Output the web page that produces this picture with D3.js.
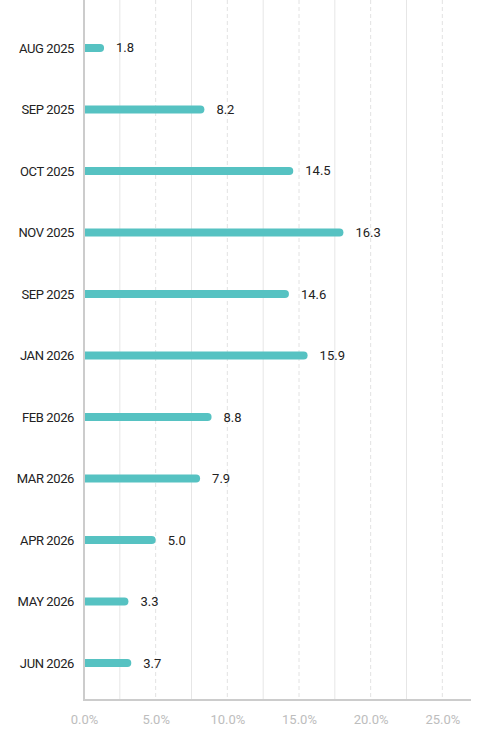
<!DOCTYPE html>
<html>
<head>
<meta charset="utf-8">
<script src="https://cdn.jsdelivr.net/npm/d3@7"></script>
<style>
  html, body { margin: 0; padding: 0; background: #fff; }
  svg { display: block; }
  text { font-family: Roboto, "Noto Sans", sans-serif; }
</style>
</head>
<body>
<script>
const categories = ["AUG 2025","SEP 2025","OCT 2025","NOV 2025","SEP 2025","JAN 2026","FEB 2026","MAR 2026","APR 2026","MAY 2026","JUN 2026"];
const barValues = [1.4, 8.4, 14.6, 18.1, 14.3, 15.6, 8.9, 8.1, 5.0, 3.1, 3.3];
const valueLabels = ["1.8","8.2","14.5","16.3","14.6","15.9","8.8","7.9","5.0","3.3","3.7"];
const xTicks = [0, 5, 10, 15, 20, 25];
const gridValues = [2.5, 5, 7.5, 10, 12.5, 15, 17.5, 20, 22.5, 25];

const W = 491, H = 751;
const svg = d3.select("body").append("svg").attr("width", W).attr("height", H);

const x = d3.scaleLinear().domain([0, 27]).range([84, 471]);
const y = d3.scalePoint().domain(d3.range(categories.length)).range([11, 700]).padding(0.6);
const plotTop = 0, plotBottom = 700;

// grid
svg.append("g").selectAll("line").data(gridValues).join("line")
  .attr("x1", d => x(d)).attr("x2", d => x(d))
  .attr("y1", plotTop).attr("y2", plotBottom)
  .attr("stroke", d => d % 5 === 0 ? "#e2e2e2" : "#e6e6e6")
  .attr("stroke-width", 1)
  .attr("stroke-dasharray", d => d % 5 === 0 ? "4,3" : null);

// bars
const bh = 8, r = 4;
svg.append("g").selectAll("path").data(barValues).join("path")
  .attr("d", (d, i) => {
    const x0 = x(0), x1 = x(d), yc = y(i);
    return `M${x0},${yc - bh/2}H${x1 - r}A${r},${r} 0 0 1 ${x1 - r},${yc + bh/2}H${x0}Z`;
  })
  .attr("fill", "#56c2c2");

// value labels
svg.append("g").selectAll("text").data(barValues).join("text")
  .attr("x", d => x(d) + 12)
  .attr("y", (d, i) => y(i))
  .attr("dy", "0.35em")
  .attr("font-size", 13)
  .attr("fill", "#222")
  .text((d, i) => valueLabels[i]);

// y axis
const yAxis = d3.axisLeft(y).tickSize(0).tickPadding(10).tickFormat(i => categories[i]);
const gy = svg.append("g").attr("transform", `translate(${x(0)},0)`).call(yAxis);
gy.select(".domain").remove();
gy.selectAll("text").attr("font-size", 13).attr("fill", "#222")
  .attr("font-family", "Roboto, sans-serif").attr("letter-spacing", "-0.4px");
svg.append("line").attr("x1", x(0)).attr("x2", x(0)).attr("y1", plotTop).attr("y2", plotBottom + 1)
  .attr("stroke", "#cccccc").attr("stroke-width", 2);

// x axis
const xAxis = d3.axisBottom(x).tickValues(xTicks).tickSize(0).tickPadding(15)
  .tickFormat(d => d3.format(".1f")(d) + "%");
const gx = svg.append("g").attr("transform", `translate(0,${plotBottom})`).call(xAxis);
gx.select(".domain").remove();
gx.selectAll("text").attr("font-size", 13).attr("fill", "#bdbdbd")
  .attr("font-family", "Roboto, sans-serif");
svg.append("line").attr("x1", x(0) - 1).attr("x2", x(27)).attr("y1", plotBottom).attr("y2", plotBottom)
  .attr("stroke", "#cccccc").attr("stroke-width", 2);
</script>
</body>
</html>
